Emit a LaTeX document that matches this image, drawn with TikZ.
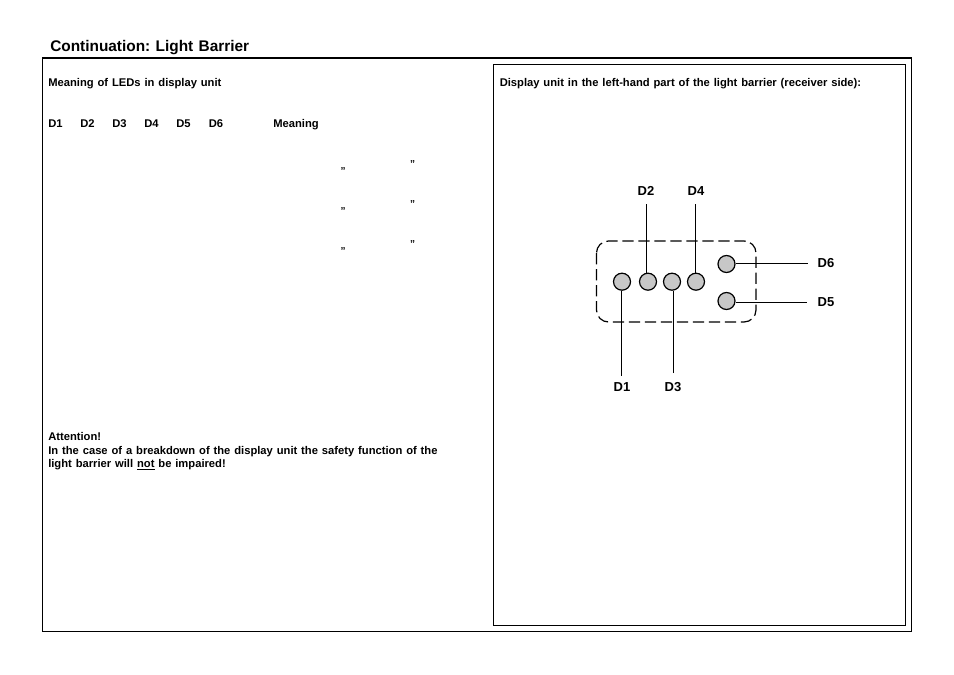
\documentclass[tikz,border=0pt]{standalone}
\usepackage{fontspec}
\setmainfont[WordSpace=1.25]{Liberation Sans}
\usetikzlibrary{positioning,calc}

\begin{document}
\frenchspacing
\begin{tikzpicture}[
		x=0.75pt,y=-0.75pt,
		heading/.style={anchor=base west,inner sep=0pt,font=\fontsize{11.55pt}{13pt}\selectfont\bfseries},
		txt/.style={anchor=base west,inner sep=0pt,font=\fontsize{8.4pt}{10.1pt}\selectfont\bfseries},
		quotemark/.style={anchor=base,inner sep=0pt,font=\fontsize{7.5pt}{9pt}\selectfont\bfseries},
		lbl/.style={inner sep=0pt,font=\fontsize{9.75pt}{12pt}\selectfont\bfseries},
		led/.style={draw,circle,fill=black!22,minimum size=12.75pt,inner sep=0pt,line width=0.9pt},
		wire/.style={line width=0.9pt}
		]
		\useasboundingbox (0,0) rectangle (954,675);
		\fill[white] (0,0) rectangle (954,675);
		% frames
		\node[heading] (title) at (50,51) {Continuation: Light Barrier};
		\draw[line width=0.75pt] (42.5,58) rectangle (911.5,631);
		\draw[line width=1.5pt] (42,58) -- (912,58);
		\draw[line width=0.75pt] (493,64.5) rectangle (905.5,625.5);
		% left part
		\node[txt] (meaning) at (48,86) {Meaning of LEDs in display unit};
		\foreach \n/\x in {1/48,2/80,3/112,4/144,5/176,6/208.5}
			\node[txt] (headD\n) at (\x,127) {D\n};
		\node[txt] (headmeaning) at (273,127) {Meaning};
		\foreach \y [count=\i] in {0,40,80}{
			\node[quotemark] (markl\i) at (343,174+\y) {\symbol{34}};
			\node[quotemark] (markr\i) at (412.7,167.5+\y) {\symbol{34}};
		}
		\node[txt,align=left] (attention) at (48,467.5)
		{
			Attention!\\
			In the case of a breakdown of the display unit the safety function of the\\
			light barrier will \underline{not} be impaired!
		};
		% right part
		\node[txt] (unit) at (499.5,86) {Display unit in the left-hand part of the light barrier (receiver side):};
		\draw[wire,dash pattern=on 8.5pt off 3.5pt,rounded corners=9pt] (596.5,241) rectangle (756,322);
		\node[led] (ledD1) at (622,281.7) {};
		\node[led] (ledD2) at (648,281.7) {};
		\node[led] (ledD3) at (672,281.7) {};
		\node[led] (ledD4) at (696,281.7) {};
		\node[led] (ledD6) at (726.5,264) {};
		\node[led] (ledD5) at (726.5,301) {};
		\node[lbl] (lblD1) at (622,386.7) {D1};
		\node[lbl] (lblD2) at (646,190.7) {D2};
		\node[lbl] (lblD3) at (673,386.7) {D3};
		\node[lbl] (lblD4) at (696,190.7) {D4};
		\node[lbl] (lblD5) at (826,302) {D5};
		\node[lbl] (lblD6) at (826,263) {D6};
		\coordinate (endD1) at (621.3,375.7);
		\coordinate (endD2) at (646.3,204);
		\coordinate (endD3) at (673.3,373);
		\coordinate (endD4) at (695.3,204);
		\coordinate (endD5) at (806.7,302.7);
		\coordinate (endD6) at (807.7,263.7);
		\draw[wire] (endD1) -- (endD1 |- ledD1.south);
		\draw[wire] (endD2) -- (endD2 |- ledD2.north);
		\draw[wire] (endD3) -- (endD3 |- ledD3.south);
		\draw[wire] (endD4) -- (endD4 |- ledD4.north);
		\draw[wire] (endD5) -- (ledD5.east |- endD5);
		\draw[wire] (endD6) -- (ledD6.east |- endD6);
	\end{tikzpicture}
\end{document}
